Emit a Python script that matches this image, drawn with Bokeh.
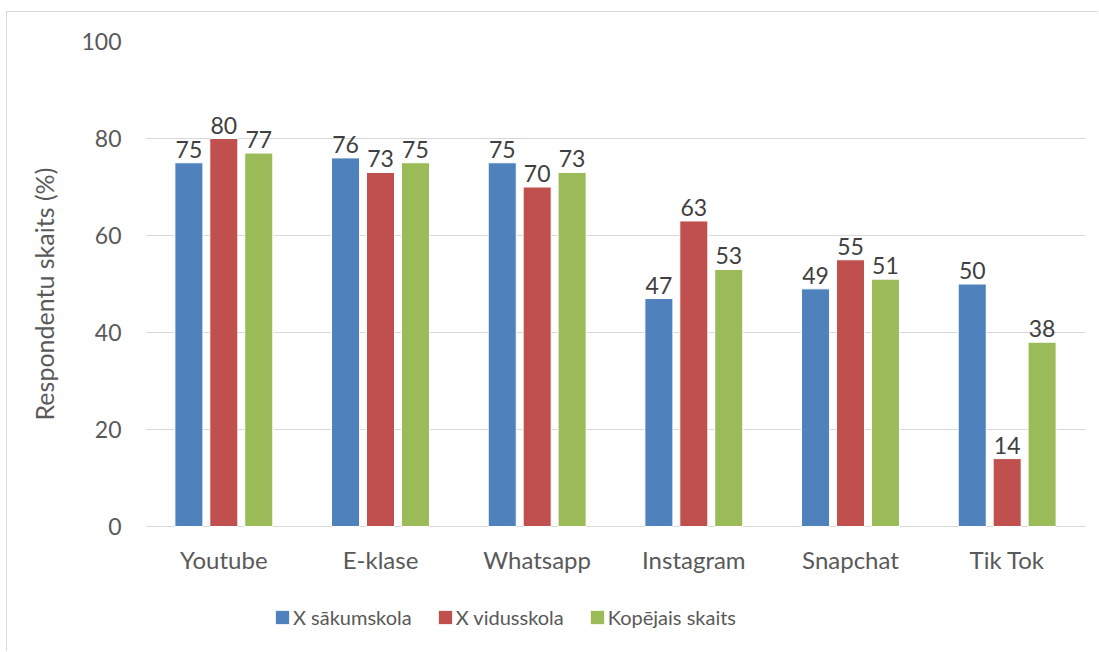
from bokeh.plotting import figure
from bokeh.models import FactorRange, Range1d, FixedTicker, Legend, LegendItem, ColumnDataSource, Title
from bokeh.transform import dodge
from bokeh.core.properties import value
from bokeh.embed import file_html
from bokeh.resources import INLINE

categories = ["Youtube", "E-klase", "Whatsapp", "Instagram", "Snapchat", "Tik Tok"]
series_names = ["X sākumskola", "X vidusskola", "Kopējais skaits"]
sakumskola = [75, 76, 75, 47, 49, 50]
vidusskola = [80, 73, 70, 63, 55, 14]
kopejais = [77, 75, 73, 53, 51, 38]
y_ticks = [0, 20, 40, 60, 80, 100]
colors = ["#4F81BD", "#C0504D", "#9BBB59"]
y_title = "Respondentu skaits (%)"

FONT = "Lato"

# frame extends below 0 so the legend can live inside it
p = figure(x_range=FactorRange(*categories, range_padding=0), y_range=Range1d(-24.74, 100),
           width=1092, height=640, output_backend="svg", toolbar_location=None,
           min_border_left=138, min_border_right=14, min_border_top=29, min_border_bottom=6)
p.styles = {"margin-left": "6px", "margin-top": "11px",
            "border-top": "1px solid #d9d9d9", "border-left": "1px solid #d9d9d9"}
p.outline_line_color = None
p.background_fill_color = "white"

src = ColumnDataSource(dict(cat=categories, a=sakumskola, b=vidusskola, c=kopejais,
                            la=[str(v) for v in sakumskola],
                            lb=[str(v) for v in vidusskola],
                            lc=[str(v) for v in kopejais],
                            zero=[0] * len(categories)))

offsets = [-0.223, 0.0, 0.223]
renderers = []
for key, lab, off, col in zip(["a", "b", "c"], ["la", "lb", "lc"], offsets, colors):
    r = p.vbar(x=dodge("cat", off, range=p.x_range), top=key, bottom=0, width=0.179, source=src,
               fill_color=col, line_color="white", line_width=1)
    renderers.append(r)
    p.text(x=dodge("cat", off, range=p.x_range), y=key, text=lab, source=src,
           text_align="center", text_baseline="bottom", y_offset=-5,
           text_font=value(FONT), text_font_size="23px", text_color="#404040")

# category labels under the zero line
p.text(x="cat", y="zero", text="cat", source=src, text_align="center", text_baseline="top",
       y_offset=18, text_font=value(FONT), text_font_size="24px", text_color="#595959")

p.xaxis.visible = False

p.yaxis.ticker = FixedTicker(ticks=y_ticks)
p.yaxis.axis_line_color = None
p.yaxis.major_tick_line_color = None
p.yaxis.minor_tick_line_color = None
p.yaxis.major_label_text_font = FONT
p.yaxis.major_label_text_font_size = "23px"
p.yaxis.major_label_text_color = "#595959"
p.yaxis.major_label_standoff = 18

p.add_layout(Title(text=y_title, align="left", offset=226, standoff=39,
                   text_font=FONT, text_font_size="25px", text_font_style="normal",
                   text_color="#595959"), "left")

p.xgrid.grid_line_color = None
p.ygrid.grid_line_color = "#d9d9d9"
p.ygrid.grid_line_width = 1

legend = Legend(items=[LegendItem(label=n, renderers=[r]) for n, r in zip(series_names, renderers)],
                orientation="horizontal", location=(128, 17),
                label_text_font=FONT, label_text_font_size="20px", label_text_color="#595959",
                glyph_width=18, glyph_height=18, label_height=24, label_standoff=2, spacing=24,
                padding=0, margin=0, border_line_color=None, background_fill_alpha=0)
p.add_layout(legend, "center")

open("out.html", "w").write(file_html(p, INLINE))
